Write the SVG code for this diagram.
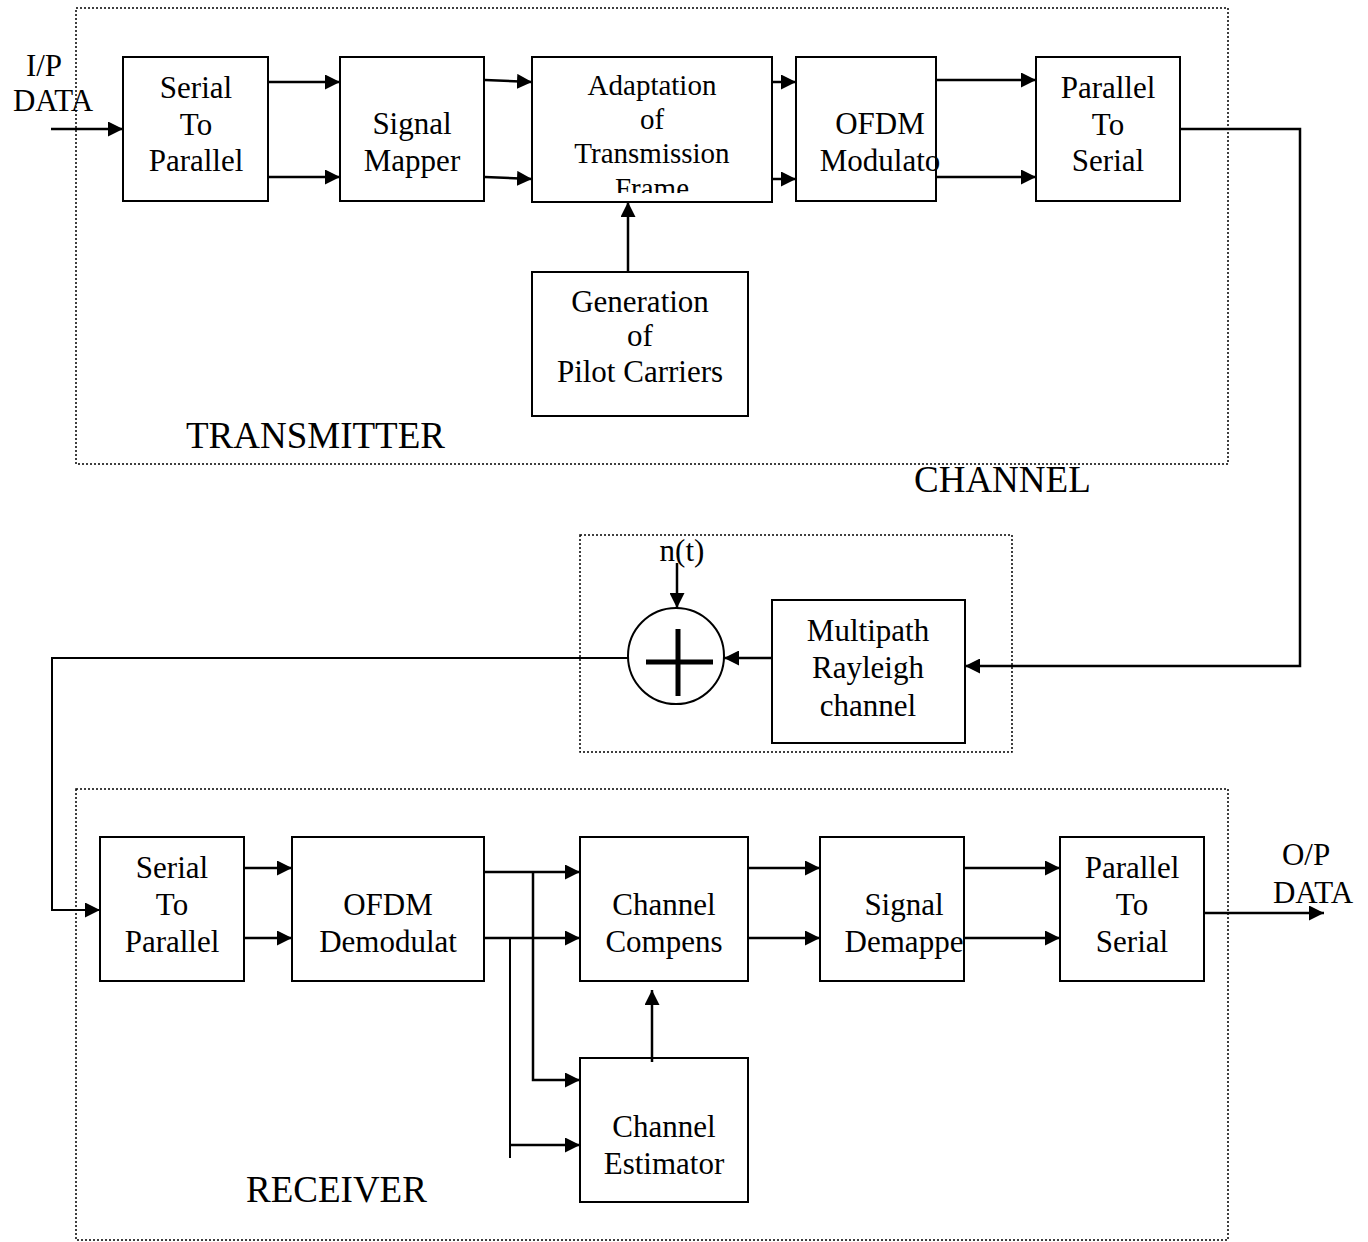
<svg xmlns="http://www.w3.org/2000/svg" width="1368" height="1242" viewBox="0 0 1368 1242">
<style>
.box{fill:#fff;stroke:#000;stroke-width:2}
.grp{fill:none;stroke:#000;stroke-width:1.5;stroke-dasharray:2,2}
.t{font-family:"Liberation Serif","Times New Roman",serif;font-size:31px;text-anchor:middle;fill:#000}
.ta{font-family:"Liberation Serif","Times New Roman",serif;font-size:29px;text-anchor:middle;fill:#000}
.lbl{font-family:"Liberation Serif","Times New Roman",serif;font-size:37px;fill:#000}
.c{fill:none;stroke:#000;stroke-width:2.5}
.ca{fill:none;stroke:#000;stroke-width:2.5;marker-end:url(#ah)}
</style>
<defs>
<marker id="ah" markerUnits="userSpaceOnUse" markerWidth="15" markerHeight="15" refX="15" refY="7.5" orient="auto">
<path d="M0,0 L15,7.5 L0,15 z" fill="#000"/>
</marker>
<clipPath id="clipA"><rect x="533" y="58" width="238" height="135"/></clipPath>
</defs>

<g id="transmitter-group">
<rect class="grp" x="76" y="8" width="1152" height="456"/>
<text class="lbl" x="186" y="448">TRANSMITTER</text>
</g>
<g id="channel-group">
<rect class="grp" x="580" y="535" width="432" height="217"/>
<text class="lbl" x="914" y="492">CHANNEL</text>
</g>
<g id="receiver-group">
<rect class="grp" x="76" y="789" width="1152" height="451"/>
<text class="lbl" x="246" y="1202">RECEIVER</text>
</g>

<g id="ip-data">
<text class="t" x="44" y="76">I/P</text>
<text class="t" x="53" y="111">DATA</text>
</g>
<g id="op-data">
<text class="t" x="1306" y="865">O/P</text>
<text class="t" x="1313" y="903">DATA</text>
</g>

<g id="tx-s2p">
<rect class="box" x="123" y="57" width="145" height="144"/>
<text class="t" x="196" y="98">Serial</text>
<text class="t" x="196" y="135">To</text>
<text class="t" x="196" y="171">Parallel</text>
</g>
<g id="tx-mapper">
<rect class="box" x="340" y="57" width="144" height="144"/>
<text class="t" x="412" y="134">Signal</text>
<text class="t" x="412" y="171">Mapper</text>
</g>
<g id="tx-adapt">
<rect class="box" x="532" y="57" width="240" height="145"/>
<g clip-path="url(#clipA)">
<text class="ta" x="652" y="95">Adaptation</text>
<text class="ta" x="652" y="129">of</text>
<text class="ta" x="652" y="163">Transmission</text>
<text class="ta" x="652" y="198">Frame</text>
</g>
</g>
<g id="tx-ofdm">
<rect class="box" x="796" y="57" width="140" height="144"/>
<text class="t" x="880" y="134">OFDM</text>
<text class="t" x="880" y="171">Modulato</text>
</g>
<g id="tx-p2s">
<rect class="box" x="1036" y="57" width="144" height="144"/>
<text class="t" x="1108" y="98">Parallel</text>
<text class="t" x="1108" y="135">To</text>
<text class="t" x="1108" y="171">Serial</text>
</g>
<g id="tx-pilot">
<rect class="box" x="532" y="272" width="216" height="144"/>
<text class="t" x="640" y="312">Generation</text>
<text class="t" x="640" y="346">of</text>
<text class="t" x="640" y="382">Pilot Carriers</text>
</g>

<g id="ch-rayleigh">
<rect class="box" x="772" y="600" width="193" height="143"/>
<text class="t" x="868" y="641">Multipath</text>
<text class="t" x="868" y="678">Rayleigh</text>
<text class="t" x="868" y="716">channel</text>
</g>
<g id="ch-sum">
<circle cx="676" cy="656" r="48" fill="#fff" stroke="#000" stroke-width="2"/>
<line x1="646" y1="662" x2="713" y2="662" stroke="#000" stroke-width="5"/>
<line x1="678" y1="629" x2="678" y2="696" stroke="#000" stroke-width="5"/>
</g>
<g id="ch-noise">
<text class="t" x="682" y="561">n(t)</text>
</g>

<g id="rx-s2p">
<rect class="box" x="100" y="837" width="144" height="144"/>
<text class="t" x="172" y="878">Serial</text>
<text class="t" x="172" y="915">To</text>
<text class="t" x="172" y="952">Parallel</text>
</g>
<g id="rx-ofdm">
<rect class="box" x="292" y="837" width="192" height="144"/>
<text class="t" x="388" y="915">OFDM</text>
<text class="t" x="388" y="952">Demodulat</text>
</g>
<g id="rx-comp">
<rect class="box" x="580" y="837" width="168" height="144"/>
<text class="t" x="664" y="915">Channel</text>
<text class="t" x="664" y="952">Compens</text>
</g>
<g id="rx-demap">
<rect class="box" x="820" y="837" width="144" height="144"/>
<text class="t" x="904" y="915">Signal</text>
<text class="t" x="904" y="952">Demappe</text>
</g>
<g id="rx-p2s">
<rect class="box" x="1060" y="837" width="144" height="144"/>
<text class="t" x="1132" y="878">Parallel</text>
<text class="t" x="1132" y="915">To</text>
<text class="t" x="1132" y="952">Serial</text>
</g>
<g id="rx-est">
<rect class="box" x="580" y="1058" width="168" height="144"/>
<text class="t" x="664" y="1137">Channel</text>
<text class="t" x="664" y="1174">Estimator</text>
</g>

<g id="connectors">
<path class="ca" d="M51,129 H123"/>
<path class="ca" d="M268,82 H340"/>
<path class="ca" d="M268,177 H340"/>
<path class="ca" d="M485,80 L532,82"/>
<path class="ca" d="M485,177 L532,179"/>
<path class="ca" d="M772,82 H796"/>
<path class="ca" d="M772,179 H796"/>
<path class="ca" d="M936,80 H1036"/>
<path class="ca" d="M936,177 H1036"/>
<path class="ca" d="M628,272 V202"/>
<path class="ca" d="M1180,129 H1300 V666 H965"/>
<path class="ca" d="M772,658 H724"/>
<path class="ca" d="M677,563 V608"/>
<path class="ca" d="M628,658 H52 V910 H100" style="stroke-width:2"/>
<path class="ca" d="M244,868 H292"/>
<path class="ca" d="M244,938 H292"/>
<path class="ca" d="M484,872 H580"/>
<path class="ca" d="M484,938 H580"/>
<path class="ca" d="M533,872 V1080 H580"/>
<path class="c" d="M510,938 V1158" style="stroke-width:2"/>
<path class="ca" d="M510,1145 H580"/>
<path class="ca" d="M748,868 H820"/>
<path class="ca" d="M748,938 H820"/>
<path class="ca" d="M964,868 H1060"/>
<path class="ca" d="M964,938 H1060"/>
<path class="ca" d="M652,1062 V990"/>
<path class="ca" d="M1204,913 H1324"/>
</g>
</svg>
